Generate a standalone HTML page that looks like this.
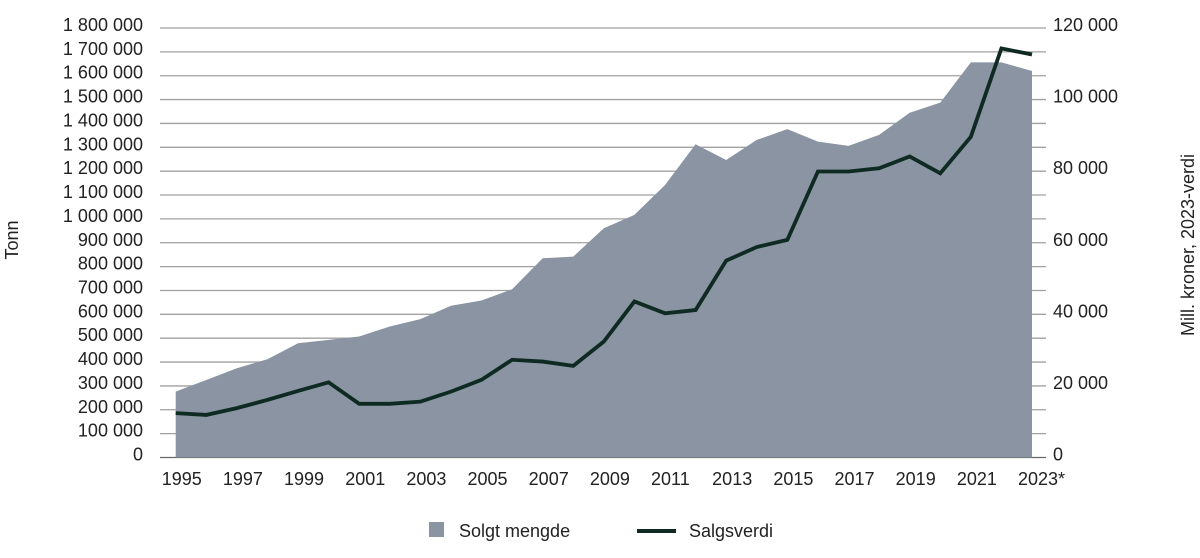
<!DOCTYPE html>
<html><head><meta charset="utf-8"><style>
body{margin:0;background:#fff;width:1200px;height:558px;overflow:hidden}
svg{display:block}
text{font-family:"Liberation Sans",sans-serif;fill:#222;font-size:18px}
</style></head><body>
<svg id="chart" width="1200" height="558" viewBox="0 0 1200 558" xmlns="http://www.w3.org/2000/svg">
<g id="grid"></g>
<g id="area"></g>
<g id="line"></g>
<g id="yleft"></g>
<g id="yright"></g>
<g id="xaxis"></g>
<text transform="translate(18,240) rotate(-90)" text-anchor="middle">Tonn</text>
<text transform="translate(1194,245) rotate(-90)" text-anchor="middle">Mill. kroner, 2023-verdi</text>
<g>
<rect x="429" y="522" width="15" height="15" fill="#8a94a2"/>
<text x="459" y="537">Solgt mengde</text>
<line x1="637" y1="531" x2="676" y2="531" stroke="#0e2a22" stroke-width="4"/>
<text x="689" y="537">Salgsverdi</text>
</g>
</svg>
<script>
const years = ["1995","1996","1997","1998","1999","2000","2001","2002","2003","2004","2005","2006","2007","2008","2009","2010","2011","2012","2013","2014","2015","2016","2017","2018","2019","2020","2021","2022","2023*"];
const solgtMengde = [276000,325000,374000,412000,479000,493000,507000,549000,580000,636000,658000,705000,835000,842000,961000,1017000,1142000,1313000,1247000,1331000,1376000,1324000,1306000,1352000,1445000,1487000,1656000,1656000,1620000];
const salgsverdi = [12400,11900,13800,16100,18600,21000,15000,15000,15600,18400,21700,27300,26800,25600,32400,43600,40300,41200,55000,58800,60800,79900,79900,80800,84100,79400,89600,114300,112600];
const leftTicks = [0,100000,200000,300000,400000,500000,600000,700000,800000,900000,1000000,1100000,1200000,1300000,1400000,1500000,1600000,1700000,1800000];
const rightTicks = [0,20000,40000,60000,80000,100000,120000];
const ns="http://www.w3.org/2000/svg";
const X0=175.7, X1=1032, Y0=457.5, Y1=28, LMAX=1800000, RMAX=120000, GL=160, GR=1046;
const x=i=>X0+(X1-X0)*i/(years.length-1);
const yl=v=>Y0-(Y0-Y1)*v/LMAX;
const yr=v=>Y0-(Y0-Y1)*v/RMAX;
const fmt=v=>String(v).replace(/\B(?=(\d{3})+(?!\d))/g," ");
function mk(tag,attrs,parent){const e=document.createElementNS(ns,tag);for(const k in attrs)e.setAttribute(k,attrs[k]);parent.appendChild(e);return e;}
const grid=document.getElementById('grid'),yL=document.getElementById('yleft');
leftTicks.forEach(v=>{
  const g=mk('line',{x1:GL,x2:GR,y1:yl(v),y2:yl(v),stroke:v===0?'#666':'#a0a0a0','stroke-width':1.3},grid);
  
  
  const t=mk('text',{x:143,y:yl(v)+3,'text-anchor':'end'},yL);
  t.textContent=fmt(v);
  
  
});
const yR=document.getElementById('yright');
rightTicks.forEach(v=>{
  const t=mk('text',{x:1053,y:yr(v)+3,'text-anchor':'start'},yR);
  t.textContent=fmt(v);
  
  
});
const xa=document.getElementById('xaxis');
years.forEach((yv,i)=>{
  if(i%2)return;
  const t=mk('text',{x:x(i)-14,y:485,'text-anchor':'start'},xa);
  t.textContent=yv;
  
  
});
let d='M'+x(0)+','+Y0;
solgtMengde.forEach((v,i)=>{d+=' L'+x(i)+','+yl(v);});
d+=' L'+x(years.length-1)+','+Y0+' Z';
const a=mk('path',{d:d,fill:'#8a94a2'},document.getElementById('area'));


const pts=salgsverdi.map((v,i)=>x(i)+','+yr(v)).join(' ');
const l=mk('polyline',{points:pts,fill:'none',stroke:'#0e2a22','stroke-width':3.8,'stroke-linejoin':'miter'},document.getElementById('line'));


</script>
</body></html>
